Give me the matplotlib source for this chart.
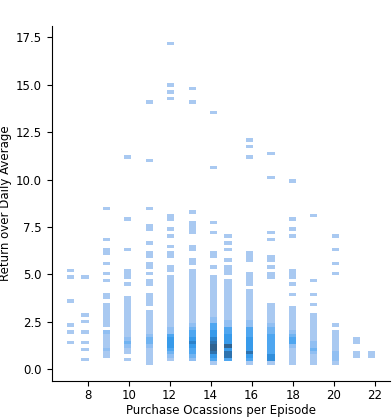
import numpy as np
import matplotlib
matplotlib.use("Agg")
import matplotlib.pyplot as plt
from matplotlib.colors import LinearSegmentedColormap

# purchase occasions per episode (x) and the returns seen for each one (y),
# with how many episodes fell on that value (n)
occasions = [7, 8, 9, 10, 11, 12, 13, 14, 15, 16, 17, 18, 19, 20, 21, 22]

y07 = [1.42, 1.97, 2.33, 3.59, 4.86, 5.22]
n07 = [1, 1, 1, 1, 1, 1]

y08 = [0.52, 1.06, 1.42, 1.97, 2.51, 2.87, 4.86]
n08 = [1, 1, 1, 1, 1, 1, 1]

y09 = [0.70, 0.88, 1.06, 1.24, 1.42, 1.61, 1.79, 1.97, 2.33, 2.51, 2.69, 2.87,
       3.05, 3.23, 3.41, 3.77, 3.95, 4.68, 5.04, 5.58, 6.12, 6.30, 6.85, 8.47]
n09 = [1, 1, 2, 1, 1, 1, 1, 2, 1, 1, 1, 1,
       1, 1, 1, 1, 1, 1, 1, 1, 1, 1, 1, 1]

y10 = [0.52, 0.88, 1.06, 1.24, 1.42, 1.61, 1.79, 1.97, 2.15, 2.33, 2.51, 2.69,
       2.87, 3.05, 3.23, 3.41, 3.59, 3.77, 4.50, 4.86, 5.04, 5.22, 6.30, 7.93, 11.18]
n10 = [1, 1, 1, 2, 3, 2, 1, 1, 1, 1, 1, 1,
       1, 1, 1, 1, 1, 1, 1, 1, 1, 1, 1, 1, 1]

y11 = [0.34, 0.52, 0.70, 0.88, 1.06, 1.24, 1.42, 1.61, 1.79, 1.97, 2.15, 2.33,
       2.51, 2.69, 2.87, 3.05, 3.41, 3.59, 3.77, 3.95, 4.50, 4.68, 5.04, 5.40,
       5.58, 5.94, 6.12, 6.67, 7.39, 7.57, 8.47, 11.00, 14.08]
n11 = [1, 1, 1, 1, 1, 2, 3, 3, 2, 1, 1, 1,
       1, 1, 1, 1, 1, 1, 1, 1, 1, 1, 1, 1,
       1, 1, 1, 1, 1, 1, 1, 1, 1]

y12 = [0.52, 0.70, 0.88, 1.06, 1.24, 1.42, 1.61, 1.79, 1.97, 2.15, 2.33, 2.51,
       2.69, 2.87, 3.05, 3.23, 3.41, 3.59, 3.77, 3.95, 4.13, 4.32, 4.50, 4.68,
       4.86, 5.22, 5.40, 5.94, 6.12, 6.49, 7.03, 7.39, 7.93, 8.11, 14.26, 14.62,
       14.98, 17.15]
n12 = [1, 2, 3, 4, 5, 5, 5, 4, 2, 2, 1, 1,
       1, 1, 1, 1, 1, 1, 1, 1, 1, 1, 1, 1,
       1, 1, 1, 1, 1, 1, 1, 1, 1, 1, 1, 1,
       1, 1]

y13 = [0.52, 0.70, 0.88, 1.06, 1.24, 1.42, 1.61, 1.79, 1.97, 2.15, 2.33, 2.51,
       2.69, 2.87, 3.05, 3.23, 3.41, 3.59, 3.77, 3.95, 4.13, 4.32, 4.50, 4.68,
       4.86, 5.04, 5.22, 5.58, 5.76, 6.30, 6.49, 7.21, 7.39, 7.57, 7.75, 8.29,
       14.08, 14.80]
n13 = [2, 3, 4, 4, 5, 7, 5, 4, 4, 3, 2, 1,
       1, 1, 1, 1, 1, 1, 1, 1, 1, 1, 1, 1,
       1, 1, 1, 1, 1, 1, 1, 1, 1, 1, 1, 1,
       1, 1]

y14 = [0.34, 0.52, 0.70, 0.88, 1.06, 1.24, 1.42, 1.61, 1.79, 1.97, 2.15, 2.33,
       2.51, 2.69, 2.87, 3.05, 3.23, 3.41, 3.59, 3.77, 3.95, 4.13, 4.32, 4.50,
       4.68, 4.86, 5.40, 5.94, 6.12, 7.21, 7.75, 10.64, 13.53]
n14 = [1, 4, 5, 8, 9, 9, 8, 7, 5, 5, 4, 4,
       2, 2, 1, 1, 1, 1, 1, 1, 1, 1, 1, 1,
       1, 1, 1, 1, 1, 1, 1, 1, 1]

y15 = [0.52, 0.70, 0.88, 1.06, 1.24, 1.42, 1.61, 1.79, 1.97, 2.15, 2.33, 2.51,
       2.69, 2.87, 3.05, 3.23, 3.41, 3.59, 3.77, 3.95, 4.13, 4.32, 4.50, 4.68,
       5.04, 5.22, 5.40, 5.76, 6.30, 6.67, 7.03]
n15 = [4, 8, 8, 5, 9, 5, 5, 5, 4, 4, 2, 2,
       1, 1, 1, 1, 1, 1, 1, 1, 1, 1, 1, 1,
       1, 1, 1, 1, 1, 1, 1]

y16 = [0.34, 0.52, 0.70, 0.88, 1.06, 1.24, 1.42, 1.61, 1.79, 1.97, 2.15, 2.33,
       2.51, 2.69, 2.87, 3.05, 3.23, 3.41, 3.59, 3.77, 3.95, 4.13, 4.50, 4.68,
       4.86, 5.04, 5.76, 5.94, 6.12, 11.18, 11.73, 12.09]
n16 = [1, 4, 5, 8, 5, 5, 5, 5, 4, 4, 4, 2,
       2, 1, 1, 1, 1, 1, 1, 1, 1, 1, 1, 1,
       1, 1, 1, 1, 1, 1, 1, 1]

y17 = [0.34, 0.52, 0.70, 0.88, 1.06, 1.24, 1.42, 1.61, 1.79, 1.97, 2.15, 2.33,
       2.51, 2.69, 2.87, 3.05, 3.23, 3.41, 4.86, 5.04, 5.40, 5.76, 5.94, 6.85,
       7.21, 10.10, 11.37]
n17 = [1, 6, 6, 4, 4, 4, 4, 4, 4, 3, 3, 2,
       1, 1, 1, 1, 1, 1, 1, 1, 1, 1, 1, 1,
       1, 1, 1]

y18 = [0.34, 0.52, 0.70, 0.88, 1.06, 1.24, 1.42, 1.61, 1.79, 1.97, 2.15, 2.33,
       2.51, 2.69, 2.87, 3.05, 3.23, 3.95, 4.50, 4.86, 5.04, 5.22, 7.03, 7.39,
       7.93, 9.92]
n18 = [1, 1, 1, 1, 1, 2, 4, 4, 3, 2, 1, 1,
       1, 1, 1, 1, 1, 1, 1, 1, 1, 1, 1, 1,
       1, 1]

y19 = [0.34, 0.52, 0.70, 0.88, 1.06, 1.24, 1.42, 1.61, 1.79, 1.97, 2.15, 2.33,
       2.51, 2.69, 2.87, 3.41, 3.95, 4.68, 8.11]
n19 = [1, 1, 1, 2, 3, 2, 2, 1, 1, 1, 1, 1,
       1, 1, 1, 1, 1, 1, 1]

y20 = [0.34, 0.52, 0.70, 0.88, 1.06, 1.24, 1.42, 1.61, 1.79, 1.97, 2.33, 5.04,
       5.58, 6.30, 7.03]
n20 = [1, 2, 2, 2, 1, 1, 1, 1, 1, 1, 1, 1,
       1, 1, 1]

y21 = [0.70, 0.88, 1.42, 1.61]
n21 = [1, 1, 1, 1]

y22 = [0.70, 0.88]
n22 = [1, 1]

col_y = [y07, y08, y09, y10, y11, y12, y13, y14, y15, y16, y17, y18, y19, y20, y21, y22]
col_n = [n07, n08, n09, n10, n11, n12, n13, n14, n15, n16, n17, n18, n19, n20, n21, n22]

x = np.concatenate([np.full(len(ys), c, dtype=float) for c, ys in zip(occasions, col_y)])
y = np.concatenate([np.array(ys) for ys in col_y])
w = np.concatenate([np.array(ns, dtype=float) for ns in col_n])

# bins as numpy "auto" picked them for the original data
xbins = np.linspace(x.min(), x.max(), 44)
ybins = np.linspace(0.25, 17.24, 95)

H, xe, ye = np.histogram2d(x, y, bins=[xbins, ybins], weights=w)
H = np.ma.masked_less_equal(H, 0)

cmap = LinearSegmentedColormap.from_list(
    "blues",
    [(0.0, "#a9c9f1"), (0.15, "#8cbdf2"), (0.45, "#3a9ff0"),
     (0.75, "#2b82cc"), (1.0, "#2f6391")])

plt.rcParams["font.size"] = 8.5

fig = plt.figure(figsize=(3.92, 4.18), dpi=100)
ax = fig.add_axes([0.132, 0.089, 0.863, 0.849])
mesh = ax.pcolormesh(xe, ye, H.T, cmap=cmap, vmin=1, vmax=9)
mesh.sticky_edges.x[:] = []
mesh.sticky_edges.y[:] = []
ax.autoscale_view()

ax.set_xticks([8, 10, 12, 14, 16, 18, 20, 22])
ax.set_yticks([0.0, 2.5, 5.0, 7.5, 10.0, 12.5, 15.0, 17.5])
ax.tick_params(axis="x", pad=2.5)
ax.set_xlabel("Purchase Ocassions per Episode", labelpad=1.5)
ax.set_ylabel("Return over Daily Average", labelpad=3)
ax.spines["top"].set_visible(False)
ax.spines["right"].set_visible(False)

fig.savefig("out.png", dpi=100)
